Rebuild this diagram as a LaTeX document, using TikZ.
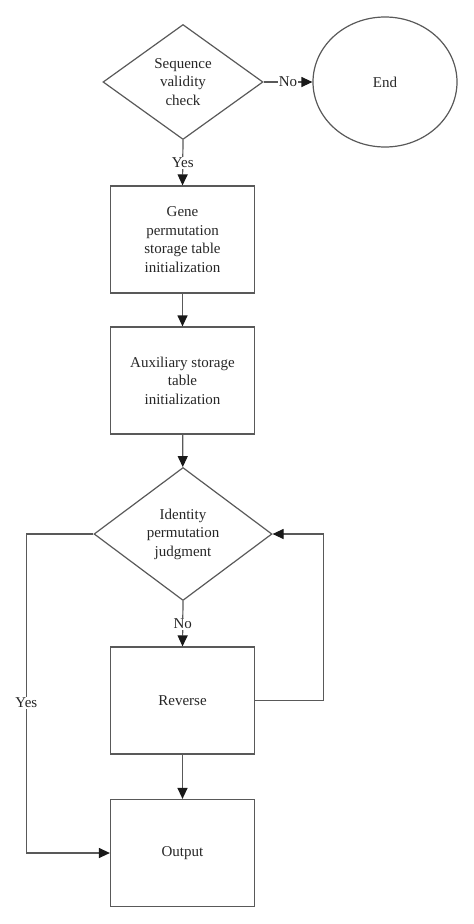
\documentclass[tikz,border=0pt]{standalone}
\usepackage{fontspec}
\setmainfont{Liberation Serif}
\usetikzlibrary{shapes.geometric,arrows.meta}
\begin{document}
\begin{tikzpicture}[x=1pt,y=-1pt,
    every node/.style={font=\fontsize{15}{18.5}\selectfont,text=black!85},
    box/.style={draw=black!65,line width=1.2pt,rectangle,minimum width=144pt,minimum height=107pt,align=center,inner sep=2pt},
    judge/.style={draw=black!65,line width=1.2pt,diamond,align=center,inner sep=0pt},
    flow/.style={draw=black!65,line width=1.2pt,-{Triangle[length=11pt,width=10pt,color=black!90,fill=black!90]}},
    lbl/.style={fill=white,inner sep=1pt}]
    \useasboundingbox (0,0) rectangle (474,924);
    % nodes
    \node[judge,minimum width=160pt,minimum height=115pt] (check) at (183,82) {Sequence\\validity\\check};
    \node[draw=black!65,line width=1.2pt,ellipse,minimum width=144pt,minimum height=130pt] (end) at (385,82) {End};
    \node[box] (gene) at (182.5,239.5) {Gene\\permutation\\storage table\\initialization};
    \node[box] (aux) at (182.5,380.5) {Auxiliary storage\\table\\initialization};
    \node[judge,minimum width=178pt,minimum height=133pt] (ident) at (183,534) {Identity\\permutation\\judgment};
    \node[box] (rev) at (182.5,700.5) {Reverse};
    \node[box] (out) at (182.5,853) {Output};
    % connectors
    \draw[flow] (check.east) -- (end.west) node[midway,lbl]{No};
    \draw[flow] (check.south) -- (gene.north) node[midway,lbl]{Yes};
    \draw[flow] (gene) -- (aux);
    \draw[flow] (aux) -- (ident);
    \draw[flow] (ident.south) -- (rev.north) node[midway,lbl]{No};
    \draw[flow] (rev) -- (out);
    \draw[flow] (rev.east) -- ++(68,0) |- (ident.east);
    \draw[flow] (ident.west) -- ++(-67,0) |- node[pos=0.265,lbl]{Yes} (out.west);
\end{tikzpicture}
\end{document}
